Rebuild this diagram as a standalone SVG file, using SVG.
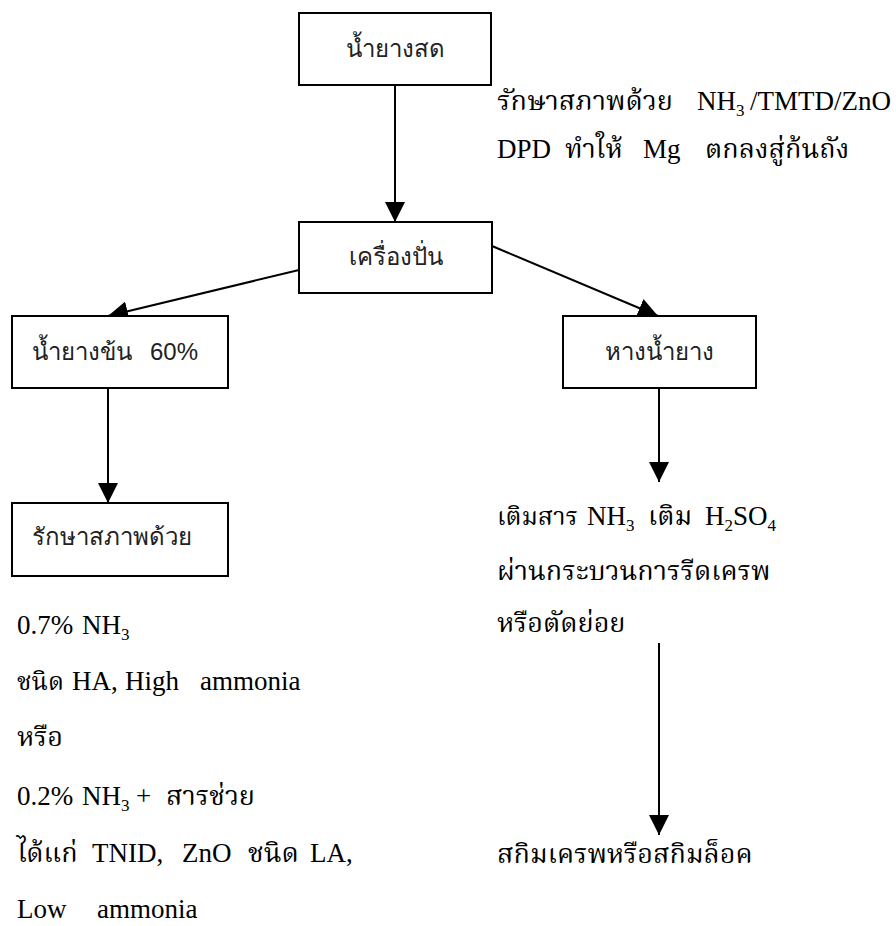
<svg xmlns="http://www.w3.org/2000/svg" width="896" height="926" viewBox="0 0 896 926">
<defs>
<style>
.box{fill:#fff;stroke:#000;stroke-width:2}
.bt{font-family:"Liberation Sans","Noto Sans",sans-serif;font-size:24px;fill:#222}
.st{font-family:"Liberation Serif","Noto Serif Thai","DejaVu Serif",serif;font-size:27px;fill:#000}
.sub{font-size:17px}
.th{font-size:25px}
.ln{stroke:#000;stroke-width:2;fill:none;marker-end:url(#ah)}
</style>
<marker id="ah" markerUnits="userSpaceOnUse" markerWidth="20" markerHeight="20" viewBox="0 0 20 20" refX="20" refY="10" orient="auto">
<path d="M0,0 L20,10 L0,20 Z" fill="#000"/>
</marker>
</defs>
<g id="connectors">
<line class="ln" x1="395" y1="85" x2="395" y2="222"/>
<line class="ln" x1="299" y1="270" x2="108" y2="316"/>
<line class="ln" x1="492" y1="246" x2="658" y2="316"/>
<line class="ln" x1="108" y1="388" x2="108" y2="503"/>
<line class="ln" x1="659" y1="388" x2="659" y2="482"/>
<line class="ln" x1="659" y1="643" x2="659" y2="835"/>
</g>
<g id="n1"><rect class="box" x="299" y="13" width="192" height="72"/><text class="bt" x="395" y="57" text-anchor="middle">น้ำยางสด</text></g>
<g id="n2"><rect class="box" x="299" y="222" width="193" height="71"/><text class="bt" x="396" y="265" text-anchor="middle">เครื่องปั่น</text></g>
<g id="n3"><rect class="box" x="12" y="316" width="216" height="72"/><text class="bt" x="32" y="360">น้ำยางข้น<tspan x="150">60%</tspan></text></g>
<g id="n4"><rect class="box" x="563" y="316" width="193" height="72"/><text class="bt" x="659" y="360" text-anchor="middle">หางน้ำยาง</text></g>
<g id="n5"><rect class="box" x="12" y="503" width="216" height="73"/><text class="bt" x="32" y="545">รักษาสภาพด้วย</text></g>
<g id="t1">
<text class="st" x="497" y="110">รักษาสภาพด้วย<tspan x="697">NH</tspan><tspan class="sub" dy="6">3</tspan><tspan x="750" dy="-6">/TMTD/ZnO</tspan></text>
<text class="st" x="497" y="158">DPD<tspan x="565">ทำให้</tspan><tspan x="643">Mg</tspan><tspan x="705">ตกลงสู่ก้นถัง</tspan></text>
</g>
<g id="t2">
<text class="st" x="17" y="634">0.7%<tspan x="82">NH</tspan><tspan class="sub" dy="6">3</tspan></text>
<text class="st" x="17" y="690"><tspan class="th">ชนิด</tspan><tspan x="72">HA,</tspan><tspan x="125">High</tspan><tspan x="200">ammonia</tspan></text>
<text class="st" x="17" y="746">หรือ</text>
<text class="st" x="17" y="805">0.2%<tspan x="82">NH</tspan><tspan class="sub" dy="6">3</tspan><tspan x="136" dy="-6">+</tspan><tspan x="166">สารช่วย</tspan></text>
<text class="st" x="17" y="862">ได้แก่<tspan x="92">TNID,</tspan><tspan x="182">ZnO</tspan><tspan x="248">ชนิด</tspan><tspan x="310">LA,</tspan></text>
<text class="st" x="17" y="918">Low<tspan x="97">ammonia</tspan></text>
</g>
<g id="t3">
<text class="st" x="497" y="525"><tspan class="th">เติมสาร</tspan><tspan x="587">NH</tspan><tspan class="sub" dy="6">3</tspan><tspan x="648" dy="-6">เติม</tspan><tspan x="705">H</tspan><tspan class="sub" dy="6">2</tspan><tspan dy="-6">SO</tspan><tspan class="sub" dy="6">4</tspan></text>
<text class="st" x="497" y="580">ผ่านกระบวนการรีดเครพ</text>
<text class="st" x="497" y="632">หรือตัดย่อย</text>
</g>
<g id="t4"><text class="st" x="497" y="863">สกิมเครพหรือสกิมล็อค</text></g>
</svg>
